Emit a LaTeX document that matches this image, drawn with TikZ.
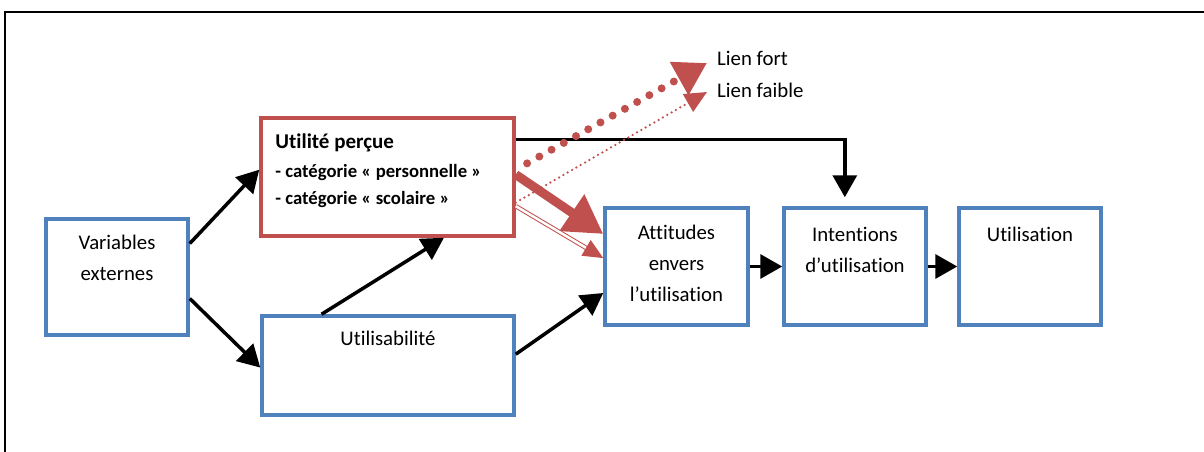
\documentclass[tikz,border=0pt]{standalone}
\usepackage{fontspec}
\setmainfont{Carlito}[Ligatures=NoCommon]
\usetikzlibrary{arrows.meta,calc}
\definecolor{boxblue}{HTML}{4F81BD}
\definecolor{linkred}{HTML}{C0504D}
\tikzset{
  bloc/.style={draw=boxblue, line width=3.5pt, inner sep=0pt},
  txt/.style={font=\fontsize{20.8}{31}\selectfont, align=center, inner sep=0pt, anchor=north},
  fleche/.style={line width=3.5pt, -{Triangle[length=22pt,width=24pt]}},
}
\begin{document}
\begin{tikzpicture}[x=1pt,y=-1pt]
        \useasboundingbox (0,0) rectangle (1204,452);
        \draw [line width=1.8pt] (5,452) -- (5,12) -- (1204,12);

        \node [bloc, minimum width=142pt, minimum height=116pt] (var) at (117,277) {};
        \node [bloc, draw=linkred, minimum width=253pt, minimum height=118pt] (util) at (387.5,177) {};
        \node [bloc, minimum width=252pt, minimum height=99pt] (usab) at (388,365.5) {};
        \node [bloc, minimum width=143pt, minimum height=117pt] (att) at (676.5,266.5) {};
        \node [bloc, minimum width=142pt, minimum height=117pt] (int) at (855,266.5) {};
        \node [bloc, minimum width=142pt, minimum height=117pt] (use) at (1030,266.5) {};

        \node [txt] (varT) at ([yshift=-18pt]var.north) {Variables\\externes};
        \node [txt] (usabT) at ([yshift=-17pt]usab.north) {Utilisabilité};
        \node [txt] (attT) at ([yshift=-19pt]att.north) {Attitudes\\envers\\l’utilisation};
        \node [txt] (intT) at ([yshift=-21pt]int.north) {Intentions\\d’utilisation};
        \node [txt] (useT) at ([yshift=-21pt]use.north) {Utilisation};
        \node [anchor=north west, align=left, inner sep=0pt, font=\bfseries\fontsize{18.7}{27}\selectfont] (utilT)
          at ([xshift=16pt,yshift=-17pt]util.north west)
          {{\fontsize{21}{29}\selectfont Utilité perçue}\\[2pt]- catégorie « personnelle »\\- catégorie « scolaire »};

        \node [anchor=west, inner sep=0pt, font=\fontsize{20.8}{31}\selectfont] (fort) at (717,58) {Lien fort};
        \node [anchor=west, inner sep=0pt, font=\fontsize{20.8}{31}\selectfont] (faible) at (717,90) {Lien faible};
        \coordinate (fortTip) at ($(fort.west)+(-10,5)$);
        \coordinate (faibleTip) at ($(faible.west)+(-10,2)$);

        \draw [fleche] ($(var.north east)!0.22!(var.south east)$) -- ($(util.north west)!0.44!(util.south west)$);
        \draw [fleche] ($(var.north east)!0.68!(var.south east)$) -- ($(usab.north west)!0.52!(usab.south west)$);
        \draw [fleche] ($(usab.north west)!0.24!(usab.north east)$) -- ($(util.south west)!0.72!(util.south east)$);
        \draw [fleche] ($(usab.north east)!0.39!(usab.south east)$) -- ($(att.north west)!0.72!(att.south west)$);
        \draw [fleche] (att) -- (int);
        \draw [fleche] (int) -- (use);
        \draw [fleche] ($(util.north east)!0.19!(util.south east)$) -| ($(int.north west)!0.43!(int.north east)+(0,-9)$);

        \draw [linkred, line width=9pt, -{Triangle[length=38pt,width=42pt]}] ($(util.north east)!0.48!(util.south east)$) -- ($(att.north west)!0.23!(att.south west)$);
        \draw [linkred, line width=1pt, double=white, double distance=2.5pt, -{Triangle[length=20pt,width=18pt]}] ($(util.north east)!0.74!(util.south east)$) -- ($(att.north west)!0.43!(att.south west)$);
        \draw [linkred, line width=8pt, line cap=round, dash pattern=on 0pt off 14pt, shorten <=13pt, -{Triangle[length=32pt,width=36pt]}] ($(util.north east)!0.44!(util.south east)$) -- (fortTip);
        \draw [linkred, line width=2.5pt, line cap=round, dash pattern=on 0pt off 5pt, -{Triangle[length=22pt,width=20pt]}] ($(util.north east)!0.71!(util.south east)$) -- (faibleTip);
      \end{tikzpicture}
\end{document}
